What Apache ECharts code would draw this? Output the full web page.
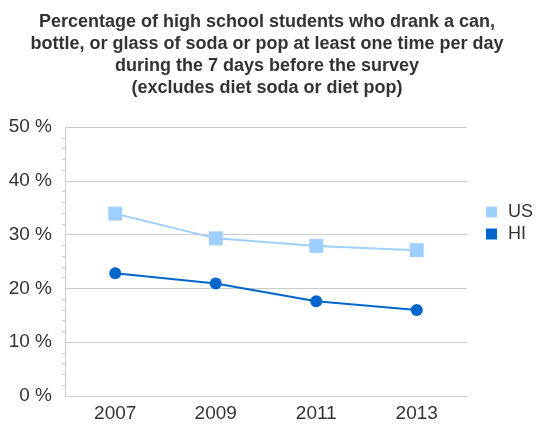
<!DOCTYPE html>
<html>
<head>
<meta charset="utf-8">
<script src="https://cdn.jsdelivr.net/npm/echarts@6/dist/echarts.min.js"></script>
<style>html,body{margin:0;padding:0;background:#fff}#c{width:538px;height:424px}</style>
</head>
<body>
<div id="c"></div>
<script>
var categories = ['2007', '2009', '2011', '2013'];
var usValues = [33.9, 29.3, 27.9, 27.1];
var hiValues = [22.8, 20.9, 17.6, 16.0];
var yTicks = { min: 0, max: 50, interval: 10 };
var titleText = 'Percentage of high school students who drank a can,\nbottle, or glass of soda or pop at least one time per day\nduring the 7 days before the survey\n(excludes diet soda or diet pop)';

var chart = echarts.init(document.getElementById('c'), null, { renderer: 'canvas' });
chart.setOption({
  animation: false,
  backgroundColor: '#fff',
  title: {
    text: titleText,
    left: 262, top: 6, textAlign: 'center',
    textStyle: { fontFamily: 'Liberation Sans', fontWeight: 'bold', fontSize: 18, color: '#333', lineHeight: 22 }
  },
  legend: {
    orient: 'vertical', left: 481, top: 198,
    itemWidth: 11, itemHeight: 11, itemGap: 4, icon: 'rect',
    textStyle: { fontFamily: 'Liberation Sans', fontSize: 18, color: '#333', padding: [0, 0, 0, 6] },
    data: ['US', 'HI']
  },
  grid: { left: 65, right: 71, top: 127, bottom: 28 },
  xAxis: {
    type: 'category', data: categories, boundaryGap: true,
    axisLine: { lineStyle: { color: '#ccc', width: 1 } },
    axisTick: { show: false },
    axisLabel: { fontFamily: 'Liberation Sans', fontSize: 19, color: '#333', margin: 8 }
  },
  yAxis: {
    type: 'value', min: yTicks.min, max: yTicks.max, interval: yTicks.interval,
    axisLine: { show: true, lineStyle: { color: '#ccc' } },
    axisTick: { show: false },
    minorTick: { show: true, splitNumber: 5, length: 3, lineStyle: { color: '#ccc' } },
    splitLine: { lineStyle: { color: '#ccc' } },
    axisLabel: { formatter: '{value} %', fontFamily: 'Liberation Sans', fontSize: 19, color: '#333', margin: 13 }
  },
  series: [
    { name: 'US', type: 'line', data: usValues, symbol: 'rect', symbolSize: 14,
      itemStyle: { color: '#9fcfff' }, lineStyle: { color: '#9fcfff', width: 2 } },
    { name: 'HI', type: 'line', data: hiValues, symbol: 'circle', symbolSize: 12,
      itemStyle: { color: '#0066cc' }, lineStyle: { color: '#0066cc', width: 2 } }
  ]
});
</script>
</body>
</html>
